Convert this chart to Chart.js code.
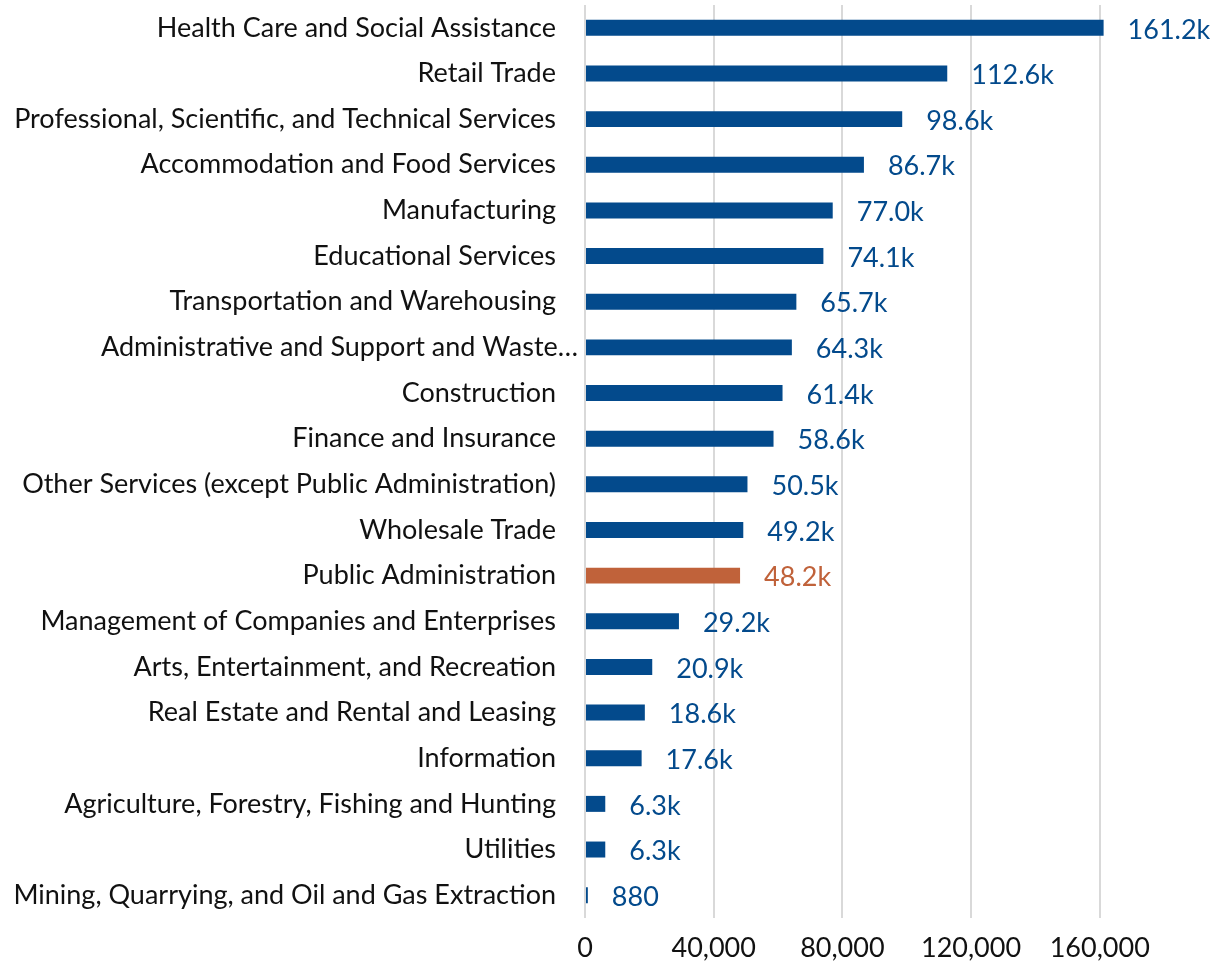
<!DOCTYPE html>
<html>
<head>
<meta charset="utf-8">
<script src="https://cdn.jsdelivr.net/npm/chart.js@4.4.1/dist/chart.umd.min.js"></script>
<style>
  body { margin: 0; background: #fff; }
  canvas { display: block; }
</style>
</head>
<body>
<canvas id="industryChart" width="1211" height="970"></canvas>
<script>
// jobs by industry, largest first
const industries = [
    'Health Care and Social Assistance',
    'Retail Trade',
    'Professional, Scientific, and Technical Services',
    'Accommodation and Food Services',
    'Manufacturing',
    'Educational Services',
    'Transportation and Warehousing',
    'Administrative and Support and Waste\u2026',
    'Construction',
    'Finance and Insurance',
    'Other Services (except Public Administration)',
    'Wholesale Trade',
    'Public Administration',
    'Management of Companies and Enterprises',
    'Arts, Entertainment, and Recreation',
    'Real Estate and Rental and Leasing',
    'Information',
    'Agriculture, Forestry, Fishing and Hunting',
    'Utilities',
    'Mining, Quarrying, and Oil and Gas Extraction'
];
const jobs = [
    161200, 112600, 98600, 86700, 77000, 74100, 65700, 64300, 61400, 58600,
    50500, 49200, 48200, 29200, 20900, 18600, 17600, 6300, 6300, 880
];
const highlighted = 'Public Administration';
const xTicks = [0, 40000, 80000, 120000, 160000];

const blue = '#034a8c';
const orange = '#c0623a';
const textColor = '#111';
const fontFamily = 'Lato, "Open Sans", sans-serif';
const fontSize = 27;

const barColors = industries.map(name => name === highlighted ? orange : blue);
// the truncated label sits a bit further right, like the original
const isTruncated = industries.map(name => name.endsWith('\u2026'));

function formatJobs(v) {
    if (v < 1000) return String(v);
    return (v / 1000).toFixed(1) + 'k';
}

// value labels at the end of each bar + the truncated category label
const valueLabels = {
    id: 'valueLabels',
    afterDatasetsDraw(chart) {
        const ctx = chart.ctx;
        const meta = chart.getDatasetMeta(0);
        const yScale = chart.scales.y;
        ctx.save();
        ctx.font = fontSize + 'px ' + fontFamily;
        ctx.textBaseline = 'middle';
        ctx.textAlign = 'left';
        meta.data.forEach((bar, i) => {
            ctx.fillStyle = barColors[i];
            ctx.fillText(formatJobs(jobs[i]), bar.x + 24, bar.y + 2);
        });
        ctx.textAlign = 'right';
        ctx.fillStyle = textColor;
        industries.forEach((name, i) => {
            if (!isTruncated[i]) return;
            ctx.fillText(name, chart.chartArea.left - 7, yScale.getPixelForTick(i));
        });
        ctx.restore();
    }
};

const canvas = document.getElementById('industryChart');
let chart = new Chart(canvas, {
    type: 'bar',
    data: {
        labels: industries,
        datasets: [{
            data: jobs,
            backgroundColor: barColors,
            borderWidth: 0,
            categoryPercentage: 1,
            barPercentage: 0.35
        }]
    },
    options: {
        indexAxis: 'y',
        responsive: false,
        animation: false,
        layout: { padding: { top: 5, right: 63, bottom: 0, left: 0 } },
        plugins: {
            legend: { display: false },
            tooltip: { enabled: false }
        },
        scales: {
            x: {
                min: 0,
                max: 175000,
                afterBuildTicks: scale => {
                    scale.ticks = xTicks.map(v => ({ value: v }));
                },
                afterFit: scale => { scale.height = 52; },
                grid: { color: '#d9d9d9', lineWidth: 2, drawTicks: false },
                border: { display: false },
                ticks: {
                    padding: 14,
                    color: textColor,
                    font: { family: fontFamily, size: fontSize },
                    maxRotation: 0,
                    callback: v => v.toLocaleString('en-US')
                }
            },
            y: {
                afterFit: scale => {
                    scale.width = 585;
                    scale.paddingTop = 0;
                    scale.paddingBottom = 0;
                },
                grid: { display: false, drawTicks: false },
                border: { display: false },
                ticks: {
                    autoSkip: false,
                    padding: 29,
                    color: c => isTruncated[c.index] ? 'rgba(0,0,0,0)' : textColor,
                    font: { family: fontFamily, size: fontSize }
                }
            }
        }
    },
    plugins: [valueLabels]
});
</script>
</body>
</html>
